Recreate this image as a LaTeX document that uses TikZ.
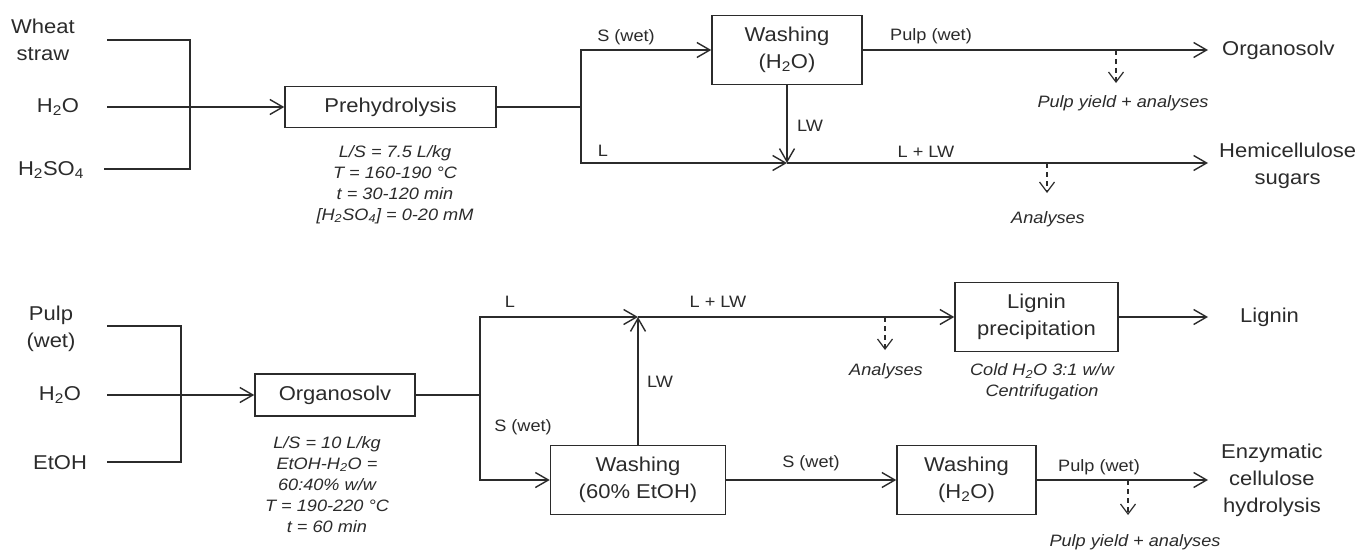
\documentclass[tikz,border=0pt]{standalone}
\usepackage{fontspec}
\setmainfont{Liberation Sans}[FakeStretch=1.1]
\usetikzlibrary{arrows.meta}
\definecolor{ink}{HTML}{2B2B2B}
\begin{document}
\begin{tikzpicture}[x=1pt,y=-1pt,
  every node/.style={text=ink, inner sep=0pt},
  big/.style={font=\fontsize{20}{27}\selectfont, align=center},
  lbl/.style={font=\fontsize{16.5}{20}\selectfont},
  note/.style={font=\fontsize{16.5}{21}\selectfont\itshape, align=center},
  box/.style={draw=ink, line width=1.5pt, big, minimum height=69pt},
  ln/.style={draw=ink, line width=1.5pt},
  arr/.style={ln, -{Straight Barb[length=13pt,width=15pt,line width=1.4pt]}},
  dar/.style={draw=ink, line width=1.2pt, dash pattern=on 5pt off 4pt, -{Straight Barb[length=10pt,width=15pt,line width=1.2pt]}},
]
\fill[white] (0,0) rectangle (1360,551);
\useasboundingbox (0,0) rectangle (1360,551);

% ---------- top: prehydrolysis ----------
\node[big] (ws) at (43,40) {Wheat\\straw};
\node[big] (w1) at (58,107) {H\textsubscript{2}O};
\node[big] (sa) at (51,170) {H\textsubscript{2}SO\textsubscript{4}};
\coordinate (ti1) at (107,40);
\coordinate (ti2) at (107,107);
\coordinate (ti3) at (104,169);
\coordinate (tv1) at (190,40);
\coordinate (tv2) at (190,169);

\node[box, minimum width=211pt, minimum height=41pt] (pre) at (390.5,107) {Prehydrolysis};
\node[note] (prenote) at (395,184.5) {L/S = 7.5 L/kg\\T = 160-190 °C\\t = 30-120 min\\{}[H\textsubscript{2}SO\textsubscript{4}] = 0-20 mM};

\node[box, minimum width=150pt] (wash1) at (787,50) {Washing\\(H\textsubscript{2}O)};
\coordinate (j1) at (581,107);
\coordinate (m1) at (787,163);

\node[big, anchor=west, inner xsep=14pt] (org1) at (1208,50) {Organosolv};
\node[big, anchor=west, inner xsep=11pt] (hemi) at (1208,166) {Hemicellulose\\sugars};

\node[lbl] (lsw1) at (626,37) {S (wet)};
\node[lbl] (ll1) at (603,151) {L};
\node[lbl] (llw1) at (810,126) {LW};
\node[lbl] (lpw1) at (931,36) {Pulp (wet)};
\node[lbl] (llplw1) at (926,152) {L + LW};
\node[note] (pya1) at (1123,103) {Pulp yield + analyses};
\node[note] (an1) at (1048,219) {Analyses};

\coordinate (d1) at (1116,50);
\coordinate (d1e) at (1116,83);
\coordinate (d2) at (1047,163);
\coordinate (d2e) at (1047,193);

\draw[ln] (ti1) -- (tv1) -- (tv2) -- (ti3);
\draw[arr] (ti2) -- (pre.west);
\draw[ln] (pre.east) -- (j1);
\draw[arr] (j1) |- (wash1.west);
\draw[arr] (j1) |- (m1);
\draw[arr] (wash1.south) -- (m1);
\draw[arr] (m1) -- (m1 -| hemi.west);
\draw[arr] (wash1.east) -- (wash1.east -| org1.west);
\draw[dar] (d1) -- (d1e);
\draw[dar] (d2) -- (d2e);

% ---------- bottom: organosolv ----------
\node[big] (pw) at (51,329) {Pulp\\(wet)};
\node[big] (w2) at (60,395) {H\textsubscript{2}O};
\node[big] (et) at (60,463) {EtOH};
\coordinate (bi1) at (107,326);
\coordinate (bi2) at (107,395);
\coordinate (bi3) at (107,462);
\coordinate (bv1) at (181,326);
\coordinate (bv2) at (181,462);

\node[box, minimum width=160pt, minimum height=42pt] (org) at (335,395) {Organosolv};
\node[note] (orgnote) at (327,484.5) {L/S = 10 L/kg\\EtOH-H\textsubscript{2}O =\\60:40\% w/w\\T = 190-220 °C\\t = 60 min};

\coordinate (j2) at (480,395);
\coordinate (m2) at (638,317);
\node[box, minimum width=175pt] (wash2) at (638,480) {Washing\\(60\% EtOH)};
\node[box, minimum width=163pt] (lig) at (1036.5,317) {Lignin\\precipitation};
\node[note] (lignote) at (1042,382) {Cold H\textsubscript{2}O 3:1 w/w\\Centrifugation};
\node[box, minimum width=139pt] (wash3) at (966.5,480) {Washing\\(H\textsubscript{2}O)};

\node[big, anchor=west, inner xsep=32pt] (lignin) at (1208,317) {Lignin};
\node[big, anchor=west, inner xsep=13pt] (enz) at (1208,480) {Enzymatic\\cellulose\\hydrolysis};

\node[lbl] (ll2) at (510,302) {L};
\node[lbl] (lsw2) at (523,427) {S (wet)};
\node[lbl] (llw2) at (660,382) {LW};
\node[lbl] (llplw2) at (718,302) {L + LW};
\node[lbl] (lsw3) at (811,463) {S (wet)};
\node[lbl] (lpw2) at (1099,467) {Pulp (wet)};
\node[note] (an2) at (886,371) {Analyses};
\node[note] (pya2) at (1135,542) {Pulp yield + analyses};

\coordinate (d3) at (885,317);
\coordinate (d3e) at (885,350);
\coordinate (d4) at (1128,480);
\coordinate (d4e) at (1128,515);

\draw[ln] (bi1) -- (bv1) -- (bv2) -- (bi3);
\draw[arr] (bi2) -- (org.west);
\draw[ln] (org.east) -- (j2);
\draw[arr] (j2) |- (m2);
\draw[arr] (j2) |- (wash2.west);
\draw[arr] (wash2.north) -- (m2);
\draw[arr] (m2) -- (m2 -| lig.west);
\draw[arr] (lig.east) -- (lig.east -| lignin.west);
\draw[arr] (wash2.east) -- (wash3.west);
\draw[arr] (wash3.east) -- (wash3.east -| enz.west);
\draw[dar] (d3) -- (d3e);
\draw[dar] (d4) -- (d4e);
\end{tikzpicture}
\end{document}
